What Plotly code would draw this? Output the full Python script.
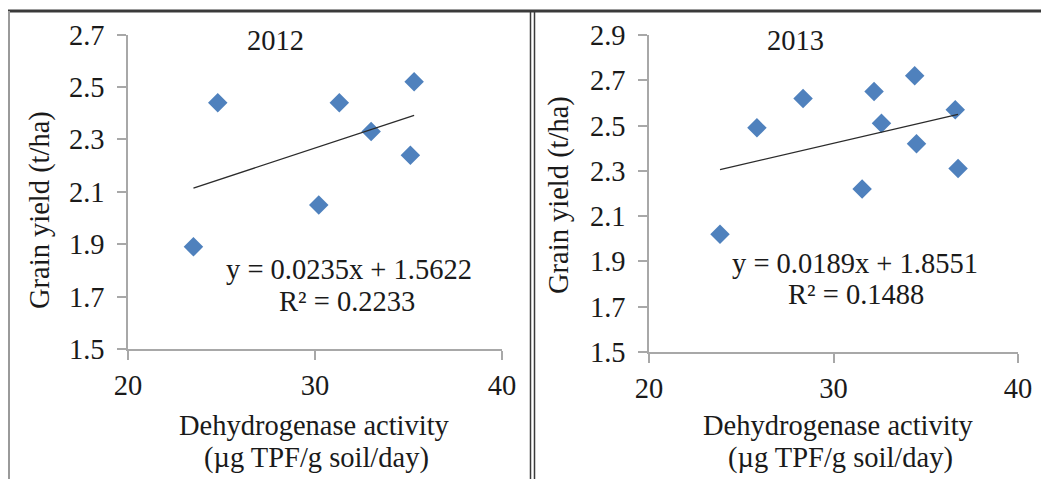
import plotly.graph_objects as go

W, H = 1041, 479

# ---- data ----
x2012 = [23.5, 24.8, 30.2, 31.3, 33.0, 35.1, 35.3]
y2012 = [1.89, 2.44, 2.05, 2.44, 2.33, 2.24, 2.52]
x2013 = [23.85, 25.85, 28.35, 31.55, 32.2, 32.6, 34.4, 34.5, 36.6, 36.75]
y2013 = [2.02, 2.49, 2.62, 2.22, 2.65, 2.51, 2.72, 2.42, 2.57, 2.31]
fit2012 = (0.0235, 1.5622)
fit2013 = (0.0189, 1.8551)
eq2012 = ["y = 0.0235x + 1.5622", "R² = 0.2233"]
eq2013 = ["y = 0.0189x + 1.8551", "R² = 0.1488"]
titles = ["2012", "2013"]
ytick2012 = [1.5, 1.7, 1.9, 2.1, 2.3, 2.5, 2.7]
ytick2013 = [1.5, 1.7, 1.9, 2.1, 2.3, 2.5, 2.7, 2.9]
xticks = [20, 30, 40]
xtitle = ["Dehydrogenase activity", "(µg TPF/g soil/day)"]
ytitle = "Grain yield (t/ha)"

FONT = "Liberation Serif"
FS = 28.5
TXT = "#1a1a1a"
BLUE = "#4f81bd"
AX = "#a8a8a8"


def fx(p):
    return p / W


def fy(p):
    return 1 - p / H


fig = go.Figure()


def add_panel(xs, ys, fit, xa, ya):
    fig.add_trace(go.Scatter(
        x=xs, y=ys, mode="markers", xaxis=xa, yaxis=ya,
        marker=dict(symbol="diamond", size=15, color=BLUE,
                    line=dict(width=0)),
        showlegend=False))
    x0, x1 = min(xs), max(xs)
    m, b = fit
    fig.add_trace(go.Scatter(
        x=[x0, x1], y=[m * x0 + b, m * x1 + b], mode="lines",
        xaxis=xa, yaxis=ya, line=dict(color="#2b2b2b", width=1.3),
        showlegend=False))


add_panel(x2012, y2012, fit2012, "x", "y")
add_panel(x2013, y2013, fit2013, "x2", "y2")

axcommon = dict(showline=True, linecolor=AX, linewidth=1.5, ticks="outside",
                ticklen=9, tickcolor=AX, tickwidth=1.5, showgrid=False,
                zeroline=False, automargin=False,
                tickfont=dict(family=FONT, size=FS, color=TXT))

fig.update_layout(
    width=W, height=H,
    margin=dict(l=0, r=0, t=0, b=0, autoexpand=False),
    paper_bgcolor="white", plot_bgcolor="white",
    xaxis=dict(domain=[fx(128), fx(502)], range=[20, 40], tickvals=xticks,
               anchor="y", ticklabelstandoff=1, **axcommon),
    yaxis=dict(domain=[fy(349), fy(34.7)], range=[1.5, 2.7],
               tickvals=ytick2012, tickformat=".1f", anchor="x",
               ticklabelstandoff=7, **axcommon),
    xaxis2=dict(domain=[fx(649), fx(1018)], range=[20, 40], tickvals=xticks,
                anchor="y2", ticklabelstandoff=1, **axcommon),
    yaxis2=dict(domain=[fy(352), fy(35)], range=[1.5, 2.9],
                tickvals=ytick2013, tickformat=".1f", anchor="x2",
                ticklabelstandoff=7, **axcommon),
)

anns = []


def txt(text, x, y, angle=0, size=FS):
    anns.append(dict(text=text, x=fx(x), y=fy(y), xref="paper", yref="paper",
                     showarrow=False, xanchor="center", yanchor="middle",
                     textangle=angle,
                     font=dict(family=FONT, size=size, color=TXT)))


# panel titles
txt(titles[0], 275, 41)
txt(titles[1], 795, 41)
# equations
txt(eq2012[0], 349, 269)
txt(eq2012[1], 347, 301)
txt(eq2013[0], 855, 263)
txt(eq2013[1], 856, 294)
# x titles
txt(xtitle[0], 314, 425)
txt(xtitle[1], 316, 458)
txt(xtitle[0], 838, 425)
txt(xtitle[1], 840, 458)
# y titles
txt(ytitle, 40, 210, angle=-90)
txt(ytitle, 559, 195, angle=-90)

fig.update_layout(annotations=anns)

# frame lines
shapes = [
    dict(type="line", xref="paper", yref="paper", x0=fx(8), x1=1,
         y0=fy(11), y1=fy(11), line=dict(color="#3a3a3a", width=3)),
    dict(type="line", xref="paper", yref="paper", x0=fx(9), x1=fx(9),
         y0=fy(11), y1=0, line=dict(color="#9a9a9a", width=2)),
    dict(type="line", xref="paper", yref="paper", x0=fx(530.5), x1=fx(530.5),
         y0=fy(11), y1=0, line=dict(color="#3a3a3a", width=1.5)),
    dict(type="line", xref="paper", yref="paper", x0=fx(534.5), x1=fx(534.5),
         y0=fy(11), y1=0, line=dict(color="#3a3a3a", width=1.5)),
]
fig.update_layout(shapes=shapes)

fig.write_html("out.html",
               config={"displayModeBar": False},
               post_script="document.body.style.margin='0';"
                           "document.body.style.overflow='hidden';")
